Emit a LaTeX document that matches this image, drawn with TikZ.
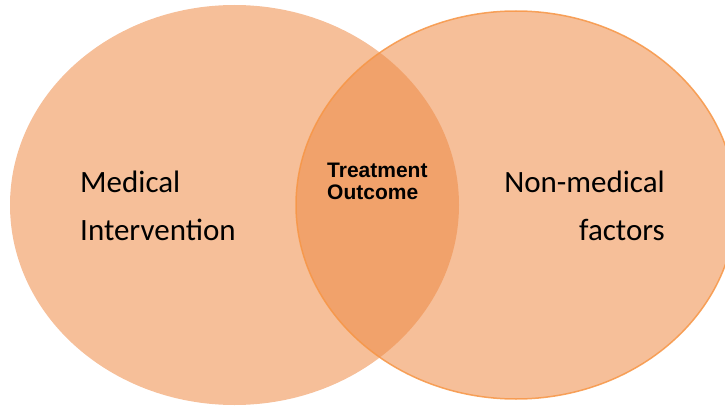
\documentclass[tikz,border=0pt]{standalone}
\usepackage{fontspec}
\setmainfont{Carlito}
\newfontfamily\arialfont{Liberation Sans}
\usetikzlibrary{positioning}

\definecolor{vennorange}{HTML}{EE8A45}
\definecolor{vennline}{HTML}{F79646}

\tikzset{
  circle set/.style={fill=vennorange, fill opacity=0.55},
  set label/.style={inner sep=0pt, font=\fontsize{31}{48}\selectfont},
  mid label/.style={inner sep=0pt, font=\arialfont\bfseries\fontsize{21}{22}\selectfont, align=left}
}

\begin{document}
\begin{tikzpicture}[x=1pt, y=1pt]
    \useasboundingbox (0,0) rectangle (725,405);

    % the two sets
    \fill[circle set] (234.5,200) ellipse [x radius=224.5, y radius=200];
    \path[circle set, draw=vennline, draw opacity=0.85, line width=1.5pt]
        (516,200) ellipse [x radius=220, y radius=194];
    \coordinate (left-set) at (234.5,200);
    \coordinate (right-set) at (516,200);

    % labels
    \node[set label, align=left, anchor=base west] (medical) at (80,165)
        {Medical\\Intervention};
    \node[set label, align=right, anchor=base east] (nonmedical) at (665,165)
        {Non-medical\\factors};

    % overlap
    \node[mid label, anchor=base west] (outcome) at (327,206)
        {Treatment\\Outcome};

\end{tikzpicture}
\end{document}
